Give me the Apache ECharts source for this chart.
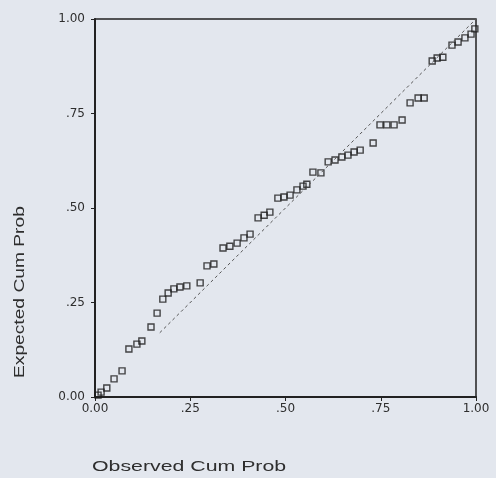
<!DOCTYPE html>
<html><head><meta charset="utf-8">
<script src="https://cdn.jsdelivr.net/npm/echarts@6/dist/echarts.min.js"></script>
<style>html,body{margin:0;padding:0;background:#e3e7ee;}#c{width:496px;height:478px;}</style>
</head><body><div id="c"></div>
<script>
const observed = [0.008,0.016,0.031,0.050,0.071,0.089,0.110,0.123,0.147,0.163,0.178,0.192,0.207,0.223,0.241,0.276,0.294,0.312,0.336,0.354,0.373,0.391,0.407,0.428,0.444,0.459,0.480,0.496,0.512,0.530,0.546,0.556,0.572,0.593,0.612,0.630,0.648,0.664,0.680,0.696,0.730,0.748,0.766,0.785,0.806,0.827,0.848,0.864,0.885,0.898,0.913,0.937,0.953,0.971,0.987,0.997];
const expected = [0.005,0.013,0.024,0.048,0.069,0.127,0.140,0.148,0.185,0.222,0.259,0.275,0.286,0.291,0.294,0.302,0.347,0.352,0.394,0.399,0.407,0.421,0.431,0.474,0.481,0.489,0.526,0.529,0.534,0.548,0.558,0.563,0.595,0.593,0.622,0.627,0.635,0.640,0.648,0.653,0.672,0.720,0.720,0.720,0.733,0.778,0.791,0.791,0.889,0.897,0.899,0.931,0.939,0.950,0.960,0.974];
const refLine = [[0.17,0.17],[1,1]];
const tickLabels = {0:'0.00',0.25:'.25',0.5:'.50',0.75:'.75',1:'1.00'};
const xTitle = 'Observed Cum Prob';
const yTitle = 'Expected Cum Prob';

const chart = echarts.init(document.getElementById('c'), null, {renderer:'canvas'});
const fmt = v => tickLabels[Math.round(v*100)/100] ?? '';
const txt = '#2e2e2e';
const lblFont = {color:txt,fontFamily:'DejaVu Sans',fontSize:12};
chart.setOption({
  backgroundColor:'#e3e7ee',
  animation:false,
  grid:{left:95,right:20,top:19,bottom:81,show:true,borderColor:'#222',borderWidth:1.5,backgroundColor:'transparent'},
  xAxis:{type:'value',min:0,max:1,interval:0.25,
    axisLine:{show:true,lineStyle:{color:'#222',width:2}},
    axisTick:{show:true,length:4,lineStyle:{color:'#222'}},
    splitLine:{show:false},
    axisLabel:Object.assign({formatter:fmt,margin:6},lblFont)},
  yAxis:{type:'value',min:0,max:1,interval:0.25,
    axisLine:{show:true,lineStyle:{color:'#222',width:2}},
    axisTick:{show:true,length:4,lineStyle:{color:'#222'}},
    splitLine:{show:false},
    axisLabel:Object.assign({formatter:fmt,margin:10},lblFont)},
  graphic:[
    {type:'text',x:92,y:459,scaleX:1.42,style:{text:xTitle,fill:txt,font:'15px "Liberation Sans"'}},
    {type:'text',rotation:Math.PI/2,x:12,y:378,scaleX:1.28,style:{text:yTitle,fill:txt,font:'15px "Liberation Sans"'}}
  ],
  series:[
    {type:'line',data:refLine,symbol:'none',silent:true,
      lineStyle:{color:'#555',width:1,type:[3,3]}},
    {type:'scatter',data:observed.map((x,i)=>[x,expected[i]]),symbol:'rect',symbolSize:6,
      itemStyle:{color:'transparent',borderColor:'#1a1a1a',borderWidth:1.4}}
  ]
});
</script></body></html>
